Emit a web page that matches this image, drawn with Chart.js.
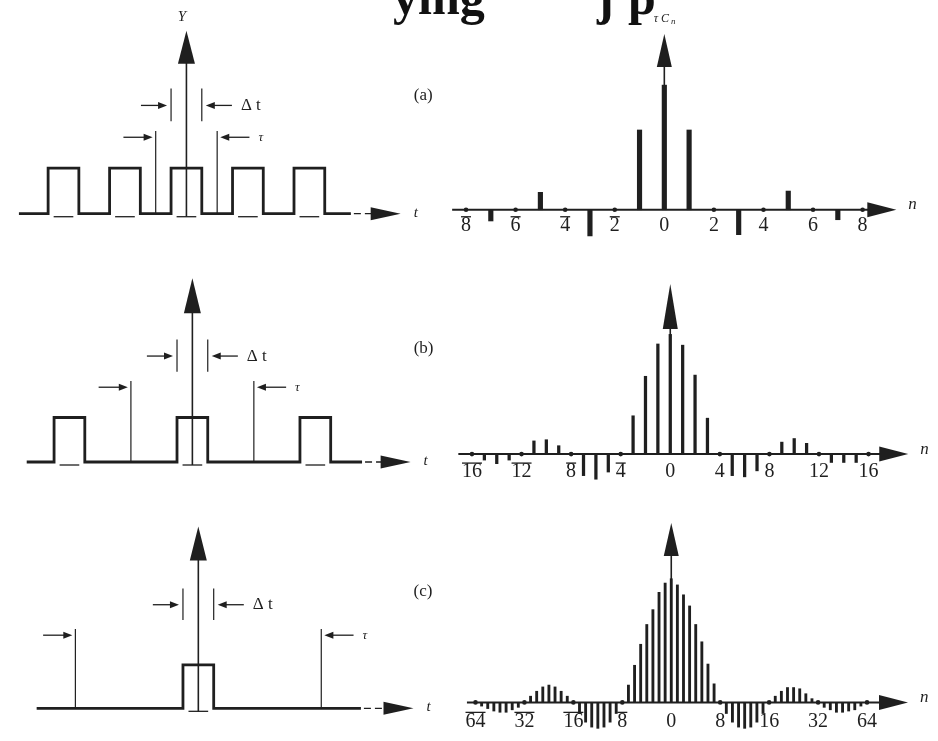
<!DOCTYPE html>
<html>
<head>
<meta charset="utf-8">
<script src="https://cdn.jsdelivr.net/npm/chart.js@4.4.1/dist/chart.umd.min.js"></script>
<style>
  html, body { margin: 0; padding: 0; background: #fff; }
  #wrap { position: relative; width: 938px; height: 741px; overflow: hidden; background: #fff; }
  .frag { position: absolute; top: -28px; font: bold 50px/50px "Liberation Serif", serif; color: #111; white-space: nowrap; }
  #c { position: absolute; left: 0; top: 0; }
</style>
</head>
<body>
<div id="wrap">
  <!-- 上端で切れている見出しの残り -->
  <div class="frag" style="left:393px">ying</div>
  <div class="frag" style="left:597px">j</div>
  <div class="frag" style="left:628px">p</div>
  <canvas id="c" width="938" height="741"></canvas>
</div>
<script>
// =========================
// データ
// =========================

// 左側：パルス列の立ち上がり／立ち下がり位置（単位 = パルス幅 Δt）
const pulseEdgesA = [-4.5, -3.5, -2.5, -1.5, -0.5, 0.5, 1.5, 2.5, 3.5, 4.5];
const pulseEdgesB = [-4.5, -3.5, -0.5, 0.5, 3.5, 4.5];
const pulseEdgesC = [-0.5, 0.5];
const deltaT = [-0.5, 0.5];   // Δt の目印
const tauA = [-1, 1];         // τ の目印 (a)
const tauB = [-2, 2];         // τ の目印 (b)
const tauC = [-4, 4];         // τ の目印 (c)

// 右側：τ·c_n のスペクトル
const nA = [-7, -5, -3, -1, 0, 1, 3, 5, 7];
const cA = [-0.09, 0.14, -0.21, 0.64, 1.0, 0.64, -0.20, 0.15, -0.08];
const ticksA = [-8, -6, -4, -2, 0, 2, 4, 6, 8];
const tickLabelsA = ['8', '6', '4', '2', '0', '2', '4', '6', '8'];

const nB = [-15, -14, -13, -11, -10, -9, -7, -6, -5, -3, -2, -1, 0,
            1, 2, 3, 5, 6, 7, 9, 10, 11, 13, 14, 15];
const cB = [-0.05, -0.08, -0.05, 0.11, 0.12, 0.07, -0.18, -0.21, -0.15, 0.32, 0.65, 0.92, 1.0,
            0.91, 0.66, 0.30, -0.18, -0.19, -0.14, 0.10, 0.13, 0.09, -0.07, -0.07, -0.07];
const ticksB = [-16, -12, -8, -4, 0, 4, 8, 12, 16];
const tickLabelsB = ['16', '12', '8', '4', '0', '4', '8', '12', '16'];

const nC = [-31, -30, -29, -28, -27, -26, -25,
            -23, -22, -21, -20, -19, -18, -17,
            -15, -14, -13, -12, -11, -10, -9,
            -7, -6, -5, -4, -3, -2, -1, 0, 1, 2, 3, 4, 5, 6, 7,
            9, 10, 11, 12, 13, 14, 15,
            17, 18, 19, 20, 21, 22, 23,
            25, 26, 27, 28, 29, 30, 31];
const cC = [-0.03, -0.05, -0.07, -0.08, -0.08, -0.06, -0.04,
            0.05, 0.09, 0.125, 0.14, 0.125, 0.09, 0.05,
            -0.09, -0.16, -0.20, -0.21, -0.20, -0.16, -0.09,
            0.14, 0.30, 0.47, 0.63, 0.75, 0.89, 0.965, 1.0, 0.95, 0.87, 0.78, 0.63, 0.49, 0.31, 0.15,
            -0.09, -0.16, -0.20, -0.21, -0.20, -0.16, -0.09,
            0.05, 0.09, 0.12, 0.12, 0.11, 0.07, 0.03,
            -0.04, -0.06, -0.08, -0.08, -0.07, -0.06, -0.03];
const ticksC = [-32, -24, -16, -8, 0, 8, 16, 24, 32];
const tickLabelsC = ['64', '32', '16', '8', '0', '8', '16', '32', '64'];

// =========================
// 配置（1枚のキャンバスに6つの座標系）
// =========================
const W = 938, H = 741;
const ink = '#1f1f1f';
const serif = '"Liberation Serif", "DejaVu Serif", serif';

// 原点のピクセル位置と 1 単位あたりのピクセル数から min/max を決める
function xRange(origin, unit) { return { min: -origin / unit, max: (W - origin) / unit }; }
function yRange(base, unit) { return { min: -(H - base) / unit, max: base / unit }; }

const pulsePanels = [
  { x: 'xa', y: 'ya', xr: xRange(184, 31), yr: yRange(212, 46), edges: pulseEdgesA, tau: tauA,
    tStart: -5.45, tEnd: 5.35, tTip: 6.97, top: 4.02, head: 33, name: '(a)', nameX: 7.4, nameY: 2.6, yLabel: 'Y' },
  { x: 'xb', y: 'yb', xr: xRange(190, 31), yr: yRange(463, 45), edges: pulseEdgesB, tau: tauB,
    tStart: -5.39, tEnd: 5.52, tTip: 7.1, top: 4.13, head: 35, name: '(b)', nameX: 7.2, nameY: 2.55 },
  { x: 'xc', y: 'yc', xr: xRange(196, 31), yr: yRange(712, 44), edges: pulseEdgesC, tau: tauC,
    tStart: -5.26, tEnd: 5.29, tTip: 7.0, top: 4.18, head: 34, name: '(c)', nameX: 7.0, nameY: 2.69 }
];

const specPanels = [
  { x: 'xA', y: 'yA', xr: xRange(666, 25), yr: yRange(208, 126), n: nA, c: cA, ticks: ticksA, labels: tickLabelsA,
    bar: 4.5, nStart: -8.56, nTip: 9.36, top: 1.41, head: 33, labelDy: 16, yLabel: true },
  { x: 'xB', y: 'yB', xr: xRange(672, 12.5), yr: yRange(455, 121), n: nB, c: cB, ticks: ticksB, labels: tickLabelsB,
    bar: 2.6, nStart: -17.1, nTip: 19.2, top: 1.42, head: 45, labelDy: 18 },
  { x: 'xC', y: 'yC', xr: xRange(673, 6.17), yr: yRange(706, 125), n: nC, c: cC, ticks: ticksC, labels: tickLabelsC,
    bar: 2.2, nStart: -33.4, nTip: 38.7, top: 1.45, head: 33, labelDy: 19 }
];

// パルス列を折れ線の点列に変換
function pulsePoints(edges, t0, t1) {
  const pts = [{ x: t0, y: 0 }];
  for (let i = 0; i < edges.length; i += 2) {
    pts.push({ x: edges[i], y: 0 }, { x: edges[i], y: 1 }, { x: edges[i + 1], y: 1 }, { x: edges[i + 1], y: 0 });
  }
  pts.push({ x: t1, y: 0 });
  return pts;
}

const datasets = [];
const scales = {};

pulsePanels.forEach(p => {
  scales[p.x] = { type: 'linear', axis: 'x', display: false, offset: false, min: p.xr.min, max: p.xr.max };
  scales[p.y] = { type: 'linear', axis: 'y', display: false, min: p.yr.min, max: p.yr.max };
  datasets.push({
    type: 'line', data: pulsePoints(p.edges, p.tStart, p.tEnd), xAxisID: p.x, yAxisID: p.y,
    borderColor: ink, borderWidth: 2.8, pointRadius: 0, tension: 0, fill: false,
    borderJoinStyle: 'miter', borderCapStyle: 'butt'
  });
});

specPanels.forEach(p => {
  scales[p.x] = { type: 'linear', axis: 'x', display: false, offset: false, min: p.xr.min, max: p.xr.max };
  scales[p.y] = { type: 'linear', axis: 'y', display: false, min: p.yr.min, max: p.yr.max };
  datasets.push({
    type: 'bar', data: p.n.map((n, i) => ({ x: n, y: p.c[i] })), xAxisID: p.x, yAxisID: p.y,
    backgroundColor: ink, borderWidth: 0, barThickness: p.bar, grouped: false
  });
  // 目盛りの点
  datasets.push({
    type: 'line', data: p.ticks.filter(t => t !== 0).map(t => ({ x: t, y: 0 })), xAxisID: p.x, yAxisID: p.y,
    showLine: false, pointRadius: 2.3, pointBackgroundColor: ink, pointBorderWidth: 0
  });
});

// =========================
// 軸・矢印・注記を描くプラグイン
// =========================
function line(ctx, x1, y1, x2, y2) {
  ctx.beginPath(); ctx.moveTo(x1, y1); ctx.lineTo(x2, y2); ctx.stroke();
}
function headRight(ctx, x, y, len, half) {
  ctx.beginPath(); ctx.moveTo(x, y); ctx.lineTo(x - len, y - half); ctx.lineTo(x - len, y + half); ctx.closePath(); ctx.fill();
}
function headLeft(ctx, x, y, len, half) {
  ctx.beginPath(); ctx.moveTo(x, y); ctx.lineTo(x + len, y - half); ctx.lineTo(x + len, y + half); ctx.closePath(); ctx.fill();
}
function headUp(ctx, x, y, len, half) {
  ctx.beginPath(); ctx.moveTo(x, y); ctx.lineTo(x - half, y + len); ctx.lineTo(x + half, y + len); ctx.closePath(); ctx.fill();
}
// 左右から線を指す小さな矢印
function pointers(ctx, X, Y, edges, y, gap, len, label, labelFont) {
  ctx.lineWidth = 1.3;
  const xl = X(edges[0] - gap), xr = X(edges[1] + gap);
  line(ctx, X(edges[0] - gap - len), Y(y), xl - 6, Y(y));
  headRight(ctx, xl, Y(y), 9, 3.5);
  line(ctx, X(edges[1] + gap + len), Y(y), xr + 6, Y(y));
  headLeft(ctx, xr, Y(y), 9, 3.5);
  ctx.font = labelFont;
  ctx.textAlign = 'left'; ctx.textBaseline = 'middle';
  ctx.fillText(label, X(edges[1] + gap + len) + 9, Y(y));
}

const figurePlugin = {
  id: 'figure',
  afterDatasetsDraw(chart) {
    const ctx = chart.ctx;
    ctx.save();
    ctx.strokeStyle = ink; ctx.fillStyle = ink;

    pulsePanels.forEach(p => {
      const X = v => chart.scales[p.x].getPixelForValue(v);
      const Y = v => chart.scales[p.y].getPixelForValue(v);
      // 縦軸
      ctx.lineWidth = 1.6;
      line(ctx, X(0), Y(0) + 3, X(0), Y(p.top) + p.head - 2);
      headUp(ctx, X(0), Y(p.top), p.head, 8.5);
      // パルスの下の軸の続き（短い細線）
      ctx.lineWidth = 1.3;
      for (let i = 0; i < p.edges.length; i += 2) {
        const m = (p.edges[i] + p.edges[i + 1]) / 2;
        line(ctx, X(m - 0.32), Y(0) + 3, X(m + 0.32), Y(0) + 3);
      }
      // 時間軸の矢印
      ctx.setLineDash([7, 4]);
      line(ctx, X(p.tEnd) + 3, Y(0), X(p.tTip) - 26, Y(0));
      ctx.setLineDash([]);
      headRight(ctx, X(p.tTip), Y(0), 30, 6.5);
      ctx.font = 'italic 15px ' + serif;
      ctx.textAlign = 'left'; ctx.textBaseline = 'middle';
      ctx.fillText('t', X(p.tTip) + 13, Y(0) - 1);
      // Δt の目印
      ctx.lineWidth = 1.2;
      deltaT.forEach(e => line(ctx, X(e), Y(2.75), X(e), Y(2.03)));
      pointers(ctx, X, Y, deltaT, 2.38, 0.13, 0.85, 'Δ t', '17px ' + serif);
      // τ の目印
      ctx.lineWidth = 1.2;
      p.tau.forEach(e => line(ctx, X(e), Y(1.82), X(e), Y(0)));
      pointers(ctx, X, Y, p.tau, 1.68, 0.1, 0.95, 'τ', 'italic 13px ' + serif);
      // (a)(b)(c)
      ctx.font = '17px ' + serif;
      ctx.textAlign = 'left';
      ctx.fillText(p.name, X(p.nameX), Y(p.nameY));
      if (p.yLabel) {
        ctx.font = 'italic 15px ' + serif;
        ctx.textAlign = 'center';
        ctx.fillText(p.yLabel, X(-0.15), Y(p.top) - 14);
      }
    });

    specPanels.forEach(p => {
      const X = v => chart.scales[p.x].getPixelForValue(v);
      const Y = v => chart.scales[p.y].getPixelForValue(v);
      // 横軸
      ctx.lineWidth = 2;
      line(ctx, X(p.nStart), Y(0), X(p.nTip) - 26, Y(0));
      headRight(ctx, X(p.nTip), Y(0), 29, 7.5);
      ctx.font = 'italic 17px ' + serif;
      ctx.textAlign = 'left'; ctx.textBaseline = 'middle';
      ctx.fillText('n', X(p.nTip) + 12, Y(0) - 5);
      // 縦軸
      ctx.lineWidth = 1.6;
      line(ctx, X(0), Y(0), X(0), Y(p.top) + p.head - 2);
      headUp(ctx, X(0), Y(p.top), p.head, 7.5);
      if (p.yLabel) {
        ctx.font = 'italic 12px ' + serif;
        ctx.textAlign = 'center';
        ctx.fillText('τ C', X(0) - 3, Y(p.top) - 15);
        ctx.font = 'italic 9px ' + serif;
        ctx.fillText('n', X(0) + 9, Y(p.top) - 12);
      }
      // 目盛りラベル（負の値は上線付き）
      ctx.font = '20px ' + serif;
      ctx.textAlign = 'center'; ctx.textBaseline = 'middle';
      p.ticks.forEach((t, i) => {
        const x = X(t), y = Y(0) + p.labelDy;
        ctx.fillText(p.labels[i], x, y);
        if (t < 0) {
          const w = ctx.measureText(p.labels[i]).width;
          ctx.lineWidth = 1.3;
          line(ctx, x - w / 2, y - 9, x + w / 2, y - 9);
        }
      });
    });
    ctx.restore();
  }
};

new Chart(document.getElementById('c').getContext('2d'), {
  type: 'line',
  data: { datasets: datasets },
  options: {
    responsive: false,
    animation: false,
    events: [],
    layout: { padding: 0 },
    plugins: { legend: { display: false }, tooltip: { enabled: false } },
    scales: scales
  },
  plugins: [figurePlugin]
});
</script>
</body>
</html>
